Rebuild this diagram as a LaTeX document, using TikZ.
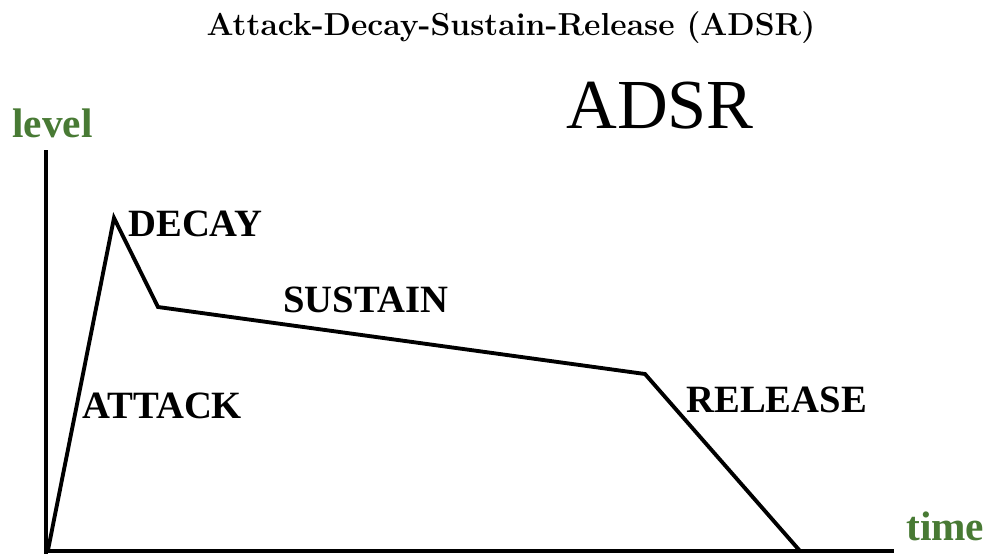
\documentclass[tikz,border=0pt]{standalone}
\usepackage{fontspec}
\newfontfamily\adsrfont{Liberation Serif}
\definecolor{axisgreen}{RGB}{72, 122, 52}
\usetikzlibrary{positioning}
\tikzset{
  axisline/.style={line width=2.2pt, black},
  envline/.style={line width=2.2pt, black, line join=miter},
  phaselabel/.style={font=\adsrfont\bfseries\fontsize{22}{24}\selectfont, inner sep=0pt, anchor=base west},
  axislabel/.style={font=\adsrfont\bfseries\fontsize{23.5}{26}\selectfont, text=axisgreen, inner sep=0pt, anchor=base west},
}

\begin{document}
\begin{tikzpicture}[x=0.02cm, y=-0.02cm]
  \useasboundingbox (0,0) rectangle (989,554);
  % title
  \node[font=\bfseries\fontsize{18.1}{22}\selectfont, inner sep=0pt, anchor=base] (title) at (511,36) {Attack-Decay-Sustain-Release (ADSR)};
  \node[font=\adsrfont\fontsize{40}{44}\selectfont, inner sep=0pt, anchor=base west] (big) at (566,128) {ADSR};
  % axes
  \coordinate (o) at (46,551);
  \coordinate (ytop) at (46,150);
  \coordinate (xend) at (894,551);
  \draw[axisline] (ytop) -- (46,554);
  \draw[axisline] (44,551) -- (xend);
  \node[axislabel] (lvl) at (12,137) {level};
  \node[axislabel] (tm) at (906,540) {time};
  % envelope
  \coordinate (st) at (48,550);
  \coordinate (pk) at (114,218);
  \coordinate (dk) at (158,307);
  \coordinate (sk) at (645,374);
  \coordinate (re) at (800,551);
  \draw[envline] (st) -- (pk) -- (dk) -- (sk) -- (re);
  % phases
  \node[phaselabel] (att) at (82,418) {ATTACK};
  \node[phaselabel] (dec) at (128,236) {DECAY};
  \node[phaselabel] (sus) at (283,312) {SUSTAIN};
  \node[phaselabel] (rel) at (686,412) {RELEASE};
\end{tikzpicture}
\end{document}
